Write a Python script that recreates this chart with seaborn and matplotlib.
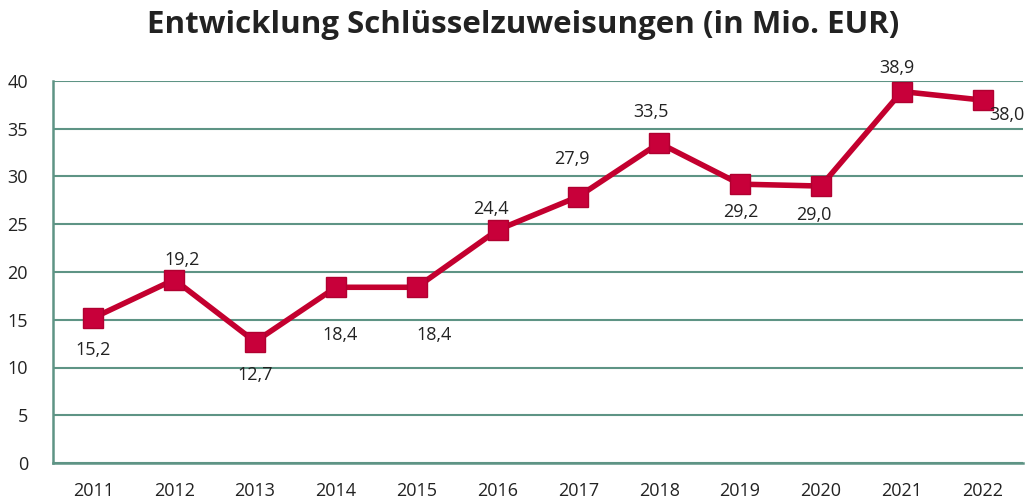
import matplotlib
matplotlib.use("Agg")
import matplotlib.pyplot as plt
import seaborn as sns
import pandas as pd

years = ["2011", "2012", "2013", "2014", "2015", "2016", "2017", "2018", "2019", "2020", "2021", "2022"]
values = [15.2, 19.2, 12.7, 18.4, 18.4, 24.4, 27.9, 33.5, 29.2, 29.0, 38.9, 38.0]
title = "Entwicklung Schlüsselzuweisungen (in Mio. EUR)"

# label offsets in pixels (dx, dy; positive dy = down)
label_dx = [0, 8, 0, 4, 17, -7, -7, -8, 1, -7, -5, 24]
label_dy = [32, -20, 33, 48, 48, -21, -38, -31, 28, 29, -24, 15]

sns.set_style("white")
plt.rcParams["font.family"] = ["Open Sans", "DejaVu Sans"]

grid_c = "#5E9485"
line_c = "#C3002F"
text_c = "#222222"

df = pd.DataFrame({"Jahr": years, "Wert": values})

fig = plt.figure(figsize=(10.31, 5.01), dpi=100)
ax = fig.add_axes([53 / 1031, 38 / 501, 970 / 1031, 382 / 501])

sns.lineplot(data=df, x="Jahr", y="Wert", ax=ax, color=line_c, linewidth=4,
             marker="s", markersize=14, markerfacecolor="#C8003A",
             markeredgecolor="#B00030", markeredgewidth=1, sort=False)

ax.set_xlim(-0.5, len(years) - 0.5)
ax.set_ylim(0, 40)
ax.set_yticks(range(0, 41, 5))
ax.yaxis.grid(True, color=grid_c, linewidth=1.5)
ax.set_axisbelow(True)
for s in ["top", "right"]:
    ax.spines[s].set_visible(False)
for s in ["left", "bottom"]:
    ax.spines[s].set_color(grid_c)
    ax.spines[s].set_linewidth(1.8)
ax.tick_params(axis="both", length=0, labelsize=13, colors=text_c)
ax.tick_params(axis="x", pad=14)
ax.tick_params(axis="y", pad=18)
ax.set_xlabel("")
ax.set_ylabel("")

for i, v in enumerate(values):
    txt = f"{v:.1f}".replace(".", ",")
    ax.annotate(txt, (i, v), xytext=(label_dx[i], -label_dy[i]), textcoords="offset pixels",
                ha="center", va="center", fontsize=13, color=text_c)

fig.text(523 / 1031, 1 - 25 / 501, title, ha="center", va="center",
         fontsize=22.5, fontweight="bold", color=text_c)

fig.savefig("out.png", dpi=100)
